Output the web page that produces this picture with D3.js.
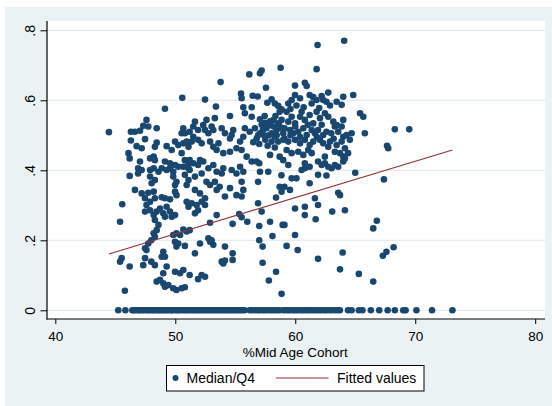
<!DOCTYPE html>
<html>
<head>
<meta charset="utf-8">
<script src="https://cdn.jsdelivr.net/npm/d3@7/dist/d3.min.js"></script>
<style>
  html, body { margin: 0; padding: 0; background: #ffffff; }
  svg { display: block; }
  text { font-family: "Liberation Sans", Arial, Helvetica, sans-serif; }
</style>
</head>
<body>
<svg id="chart" width="552" height="406"></svg>
<script>
// Share of the mid age cohort (x) against Median/Q4 (y), one pair per observation
const cohortObs = [
  [50.58,0.607],[49.14,0.576],
  [58.78,0.693],[57.2,0.685],[57.06,0.677],[56.17,0.674],[53.78,0.652],[57.56,0.636],[52.48,0.602],
  [55.48,0.619],[55.53,0.606],[53.39,0.582],[56.45,0.613],[56.87,0.611],[55.67,0.58],[56.37,0.58],
  [57.67,0.593],[58.03,0.603],[58.3,0.591],[58.58,0.584],[58.86,0.574],
  [64.08,0.77],[61.86,0.758],[61.78,0.689],[59.98,0.642],[60.8,0.65],[60.95,0.641],[62.75,0.622],
  [59.7,0.601],[59.98,0.615],[60.4,0.606],[59.42,0.591],[61.2,0.615],[61.5,0.609],[61.78,0.601],
  [61.37,0.591],[62.2,0.612],[62.33,0.601],[62.6,0.596],[63.45,0.596],[64.0,0.61],[64.83,0.615],[63.87,0.587],
  [60.1,0.585],[60.7,0.58],[62.9,0.585],[59.6,0.575],[62.0,0.578],
  [44.47,0.509],[47.6,0.544],[47.33,0.527],[47.75,0.525],[48.45,0.52],[46.3,0.51],[46.64,0.51],[47.06,0.513],
  [50.67,0.52],[50.8,0.506],[50.53,0.506],
  [46.3,0.485],[46.78,0.469],[47.2,0.463],[47.48,0.489],[48.45,0.479],[48.3,0.467],[49.28,0.469],[49.7,0.458],
  [49.98,0.482],[50.25,0.472],[50.67,0.477],[50.95,0.482],[51.1,0.467],
  [46.1,0.449],[46.2,0.434],[47.06,0.425],[47.9,0.434],[48.2,0.439],[48.3,0.429],[49.14,0.425],[49.56,0.42],
  [49.98,0.415],[50.53,0.449],[50.8,0.429],[51.1,0.42],
  [46.9,0.406],[47.2,0.401],[46.9,0.391],[47.9,0.401],[48.2,0.406],[48.6,0.396],[46.2,0.384],[48.87,0.406],
  [49.28,0.401],[49.56,0.406],[49.83,0.396],[50.25,0.41],[50.67,0.41],[51.1,0.406],
  [47.9,0.382],[48.3,0.372],[48.03,0.363],[49.83,0.382],[50.1,0.367],[49.98,0.358],[50.8,0.387],[51.1,0.372],[50.95,0.358],
  [46.64,0.344],[47.2,0.334],[47.75,0.336],[48.2,0.339],[47.48,0.32],[47.9,0.31],[47.6,0.301],[48.3,0.32],
  [48.87,0.323],[49.14,0.32],[49.56,0.317],[50.1,0.329],[49.98,0.339],[50.95,0.31],[45.58,0.303],
  [54.56,0.555],[55.8,0.563],[56.37,0.553],[58.7,0.567],[57.06,0.546],[57.5,0.536],[57.9,0.529],[58.2,0.544],
  [58.6,0.534],[58.86,0.544],
  [53.3,0.549],[52.6,0.544],[51.64,0.539],[51.5,0.525],[51.9,0.515],[52.33,0.529],[52.48,0.515],[52.76,0.506],
  [53.03,0.525],[53.17,0.515],
  [53.87,0.52],[54.14,0.506],[54.7,0.501],[54.83,0.515],[54.56,0.491],[55.8,0.52],[56.2,0.51],[55.67,0.496],[55.4,0.482],
  [56.64,0.52],[57.06,0.506],[56.78,0.491],[57.6,0.52],[58.03,0.506],[58.45,0.515],[58.3,0.496],[58.7,0.525],
  [59.0,0.506],[58.58,0.482],[59.0,0.487],[58.03,0.482],[57.5,0.487],
  [57.3,0.515],[57.8,0.5],[58.2,0.525],[57.2,0.53],[58.45,0.5],[56.9,0.5],[57.4,0.5],[58.9,0.52],
  [57.0,0.475],[57.7,0.47],[58.3,0.465],[56.5,0.48],[57.9,0.54],[58.35,0.555],[57.45,0.555],
  [51.2,0.51],[51.5,0.496],[51.9,0.487],[52.2,0.477],[51.37,0.482],[52.9,0.482],[53.17,0.467],[53.6,0.477],
  [53.45,0.458],[54.0,0.449],[54.56,0.453],[55.1,0.463],[55.53,0.458],[55.95,0.439],[56.37,0.425],[58.7,0.439],
  [59.0,0.429],[57.9,0.444],
  [51.2,0.429],[51.5,0.42],[51.9,0.415],[52.06,0.429],[52.33,0.425],[52.76,0.406],[53.17,0.415],[53.45,0.396],
  [53.87,0.391],[54.0,0.406],[51.2,0.401],[51.64,0.382],[52.2,0.391],[54.7,0.401],[55.1,0.391],[55.4,0.41],
  [55.67,0.396],[56.78,0.425],[57.06,0.396],[57.75,0.396],[56.9,0.367],[57.0,0.42],
  [52.6,0.367],[52.9,0.358],[53.3,0.367],[51.64,0.344],[52.06,0.334],[52.48,0.32],[53.7,0.353],[53.45,0.344],
  [54.56,0.349],[54.14,0.325],[55.1,0.329],[55.53,0.367],[55.67,0.344],[58.7,0.353],[58.86,0.339],[55.53,0.325],
  [58.4,0.322],[58.85,0.386],
  [59.28,0.567],[59.7,0.553],[59.42,0.539],[59.98,0.534],[60.4,0.553],[60.53,0.567],[60.8,0.544],[61.2,0.558],
  [61.5,0.534],[61.78,0.567],[62.06,0.549],[62.47,0.563],[62.75,0.553],[63.17,0.539],[63.45,0.529],[63.87,0.525],[64.0,0.544],
  [65.4,0.563],[65.67,0.553],[64.7,0.506],[65.8,0.506],
  [59.1,0.52],[59.56,0.515],[59.83,0.506],[60.25,0.51],[60.67,0.52],[60.95,0.501],[61.37,0.515],[61.64,0.506],
  [61.9,0.515],[62.33,0.501],[62.6,0.51],[63.0,0.506],[63.3,0.525],[63.58,0.51],[64.0,0.496],[64.28,0.501],[64.55,0.487],
  [60.0,0.525],[61.05,0.53],[62.2,0.53],[60.4,0.495],[61.8,0.495],[63.2,0.49],[59.6,0.5],
  [59.1,0.491],[59.42,0.482],[59.98,0.487],[60.4,0.477],[60.8,0.487],[61.2,0.472],[61.5,0.482],[62.06,0.487],
  [62.33,0.477],[62.75,0.467],[62.9,0.482],[63.45,0.472],[63.87,0.482],[64.14,0.463],
  [59.28,0.458],[59.7,0.449],[60.25,0.453],[60.67,0.444],[61.08,0.458],[61.37,0.449],[62.47,0.439],[63.3,0.453],
  [63.73,0.449],[64.0,0.439],[64.4,0.449],
  [59.42,0.415],[60.8,0.42],[61.2,0.41],[61.9,0.425],[62.2,0.415],[63.3,0.415],[63.58,0.41],[64.0,0.425],
  [64.14,0.434],[60.53,0.401],[60.8,0.406],[62.75,0.41],[63.03,0.406],[62.47,0.42],[65.0,0.393],[61.9,0.387],[62.6,0.385],
  [59.7,0.377],[60.1,0.377],[61.2,0.363],[59.1,0.353],[59.56,0.344],[63.58,0.336],[63.73,0.329],[61.64,0.32],
  [45.4,0.253],[47.48,0.282],[47.9,0.286],[48.2,0.272],[48.45,0.282],[48.73,0.291],[49.0,0.277],[49.28,0.296],
  [49.14,0.267],[49.56,0.282],[49.7,0.267],[49.98,0.272],[51.1,0.296],
  [48.3,0.258],[48.6,0.244],[48.45,0.229],[48.2,0.22],[48.3,0.21],[48.0,0.2],[47.75,0.191],[47.6,0.172],[47.48,0.177],
  [49.83,0.215],[50.1,0.22],[50.4,0.215],[50.67,0.231],[50.95,0.225],[51.2,0.229],[49.98,0.196],[50.25,0.191],
  [50.1,0.182],[50.8,0.184],
  [49.0,0.167],[48.87,0.153],[49.14,0.153],[47.48,0.149],[45.53,0.149],[45.4,0.139],[46.2,0.125],[47.33,0.129],
  [48.0,0.139],[48.3,0.129],[49.28,0.125],[49.0,0.106],[49.98,0.11],[50.4,0.106],[50.67,0.115],
  [48.45,0.082],[48.73,0.087],[49.0,0.077],[49.14,0.067],[49.42,0.072],[49.83,0.063],[50.1,0.058],[50.53,0.063],
  [50.8,0.066],[45.8,0.056],
  [51.37,0.306],[51.78,0.301],[52.2,0.31],[52.48,0.301],[51.9,0.286],[51.64,0.277],[53.45,0.272],[52.9,0.25],
  [54.78,0.247],[55.33,0.275],[55.53,0.266],[56.0,0.253],[56.9,0.306],[57.2,0.282],[57.0,0.241],[57.9,0.253],[58.95,0.244],
  [52.76,0.206],[53.03,0.2],[53.17,0.187],[52.9,0.196],[52.06,0.191],[54.14,0.182],[57.0,0.2],[57.28,0.182],
  [58.1,0.212],[51.64,0.163],[54.78,0.163],[53.87,0.139],[54.0,0.134],[54.14,0.142],[54.78,0.144],[57.28,0.136],
  [51.2,0.101],[51.9,0.089],[52.2,0.101],[52.48,0.096],[58.4,0.11],[57.8,0.085],[58.86,0.047],
  [59.98,0.291],[60.8,0.296],[60.8,0.272],[61.9,0.301],[61.7,0.26],[63.08,0.282],[64.14,0.286],[59.1,0.244],
  [59.98,0.215],[59.28,0.184],[60.2,0.172],[66.5,0.234],[66.8,0.256],[61.9,0.147],[63.95,0.165],[63.73,0.117],
  [65.3,0.104],[66.5,0.082],
  [68.3,0.517],[69.5,0.517],[67.75,0.463],[67.65,0.47],[67.39,0.374],[67.3,0.156],[67.6,0.167],[68.2,0.18]
];

// Observations whose Median/Q4 is exactly zero (x positions only)
const zeroShareX = [
  45.25,45.84,
  46.42,46.55,46.71,46.93,47.05,47.24,47.38,47.6,47.72,47.9,48.08,48.21,48.4,48.57,48.69,48.88,
  49.03,49.2,49.35,49.52,49.7,49.81,50.02,50.17,50.33,50.5,50.71,50.86,51.04,51.2,51.41,51.58,
  51.73,51.92,52.1,52.27,52.44,52.6,52.81,52.98,53.15,53.33,53.5,53.68,53.84,54.03,54.2,54.37,
  54.55,54.71,54.9,55.06,55.25,55.42,55.6,55.78,
  56.22,56.4,56.63,56.85,57.02,57.25,57.47,57.66,57.9,58.08,58.3,58.5,58.7,
  59.02,59.2,59.41,59.6,59.83,60.0,60.2,60.41,60.6,60.78,61.0,61.17,61.38,61.6,61.8,62.0,
  62.2,62.43,62.62,62.85,63.05,63.3,63.52,63.72,
  64.4,64.7,65.3,65.6,66.3,67.0,67.7,68.3,69.0,69.2,70.1,71.4,73.1
];

// Linear fit, evaluated at the ends of the observed x range
const fitX = [44.47, 73.1];
const fitY = [0.161, 0.458];

const xTicks = [40, 50, 60, 70, 80];
const yTicks = [0, 0.2, 0.4, 0.6, 0.8];
const yTickLabels = ["0", ".2", ".4", ".6", ".8"];

const legendLabels = ["Median/Q4", "Fitted values"];
const xTitle = "%Mid Age Cohort";

const navy = "#1a476f";
const maroon = "#90353b";
const regionFill = "#eaf2f3";
const gridColor = "#e3ecef";

const svg = d3.select("#chart");

// Plot region bounds
const plot = { left: 47, right: 545, top: 21, bottom: 319 };

const x = d3.scaleLinear().domain([40, 80]).range([55.3, 535.2]);
const y = d3.scaleLinear().domain([0, 0.8]).range([310.3, 30.3]);

// Graph region background
svg.append("rect").attr("x", 5).attr("y", 7).attr("width", 547).attr("height", 399).attr("fill", regionFill);

// Plot region
svg.append("rect")
  .attr("x", plot.left).attr("y", plot.top)
  .attr("width", plot.right - plot.left).attr("height", plot.bottom - plot.top)
  .attr("fill", "#ffffff");

// Horizontal grid lines
svg.append("g").selectAll("line").data(yTicks).join("line")
  .attr("x1", plot.left).attr("x2", plot.right)
  .attr("y1", d => y(d)).attr("y2", d => y(d))
  .attr("stroke", gridColor).attr("stroke-width", 1.2);

// Y axis
const yAxis = d3.axisLeft(y).tickValues(yTicks).tickSize(6.5)
  .tickFormat((d, i) => yTickLabels[i]);
const gy = svg.append("g").attr("transform", `translate(${plot.left},0)`).call(yAxis);
gy.select(".domain").remove();
gy.selectAll(".tick line").attr("stroke", "#000").attr("stroke-width", 1);
gy.selectAll(".tick text")
  .attr("x", 0).attr("y", 0).attr("dy", null)
  .attr("transform", "translate(-12,0) rotate(-90)")
  .attr("text-anchor", "middle")
  .attr("fill", "#000")
  .style("font-size", "14px");
svg.append("line")
  .attr("x1", plot.left).attr("x2", plot.left)
  .attr("y1", plot.top).attr("y2", plot.bottom + 0.5)
  .attr("stroke", "#000").attr("stroke-width", 1.2);

// X axis
const xAxis = d3.axisBottom(x).tickValues(xTicks).tickSize(5).tickFormat(d3.format("d"));
const gx = svg.append("g").attr("transform", `translate(0,${plot.bottom})`).call(xAxis);
gx.select(".domain").remove();
gx.selectAll(".tick line").attr("stroke", "#000").attr("stroke-width", 1);
gx.selectAll(".tick text")
  .attr("y", 21.5).attr("dy", null)
  .attr("fill", "#000")
  .style("font-size", "13.5px");
svg.append("line")
  .attr("x1", plot.left - 0.5).attr("x2", plot.right)
  .attr("y1", plot.bottom).attr("y2", plot.bottom)
  .attr("stroke", "#000").attr("stroke-width", 1.2);

// X axis title
svg.append("text")
  .attr("x", x(60)).attr("y", 356.5)
  .attr("text-anchor", "middle")
  .attr("fill", "#000")
  .style("font-size", "13.5px")
  .text(xTitle);

// Scatter points
const points = cohortObs.concat(zeroShareX.map(v => [v, 0]));
svg.append("g").selectAll("circle").data(points).join("circle")
  .attr("cx", d => x(d[0])).attr("cy", d => y(d[1]))
  .attr("r", 3.3)
  .attr("fill", navy);

// Fitted line
const fitLine = d3.line().x(d => x(d[0])).y(d => y(d[1]));
svg.append("path")
  .datum(fitX.map((v, i) => [v, fitY[i]]))
  .attr("d", fitLine)
  .attr("fill", "none")
  .attr("stroke", maroon)
  .attr("stroke-width", 1.2);

// Legend
const lg = svg.append("g");
lg.append("rect")
  .attr("x", 166.5).attr("y", 365.5).attr("width", 257.5).attr("height", 25.5)
  .attr("fill", "#ffffff").attr("stroke", "#000").attr("stroke-width", 1);
lg.append("circle").attr("cx", 175.5).attr("cy", 378).attr("r", 3).attr("fill", navy);
lg.append("text").attr("x", 186.5).attr("y", 383).attr("fill", "#000")
  .style("font-size", "14px").text(legendLabels[0]);
lg.append("line")
  .attr("x1", 275.7).attr("x2", 328.5).attr("y1", 378).attr("y2", 378)
  .attr("stroke", maroon).attr("stroke-width", 1.2);
lg.append("text").attr("x", 337).attr("y", 383).attr("fill", "#000")
  .style("font-size", "14px").text(legendLabels[1]);
</script>
</body>
</html>
